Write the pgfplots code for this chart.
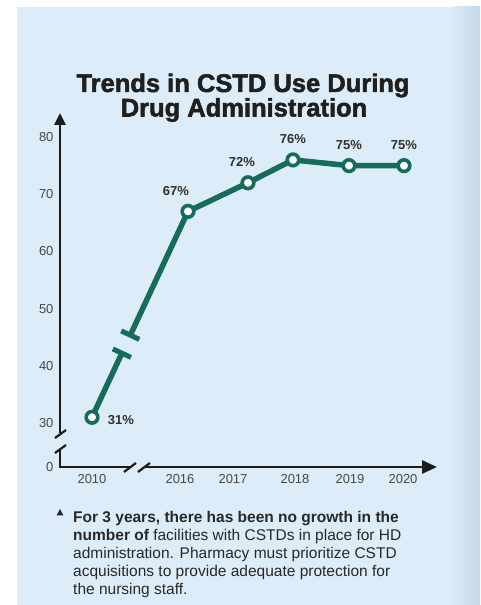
\documentclass[border=0pt]{standalone}
\usepackage{fontspec}
\setmainfont{Liberation Sans}
\newfontface\titlefont{Liberation Sans Bold}[FakeBold=2]
\usepackage{pgfplots}
\pgfplotsset{compat=1.18}
\usetikzlibrary{arrows.meta}
\definecolor{panel}{RGB}{220,236,248}
\definecolor{panelR}{RGB}{196,216,232}
\definecolor{cteal}{RGB}{22,108,90}
\definecolor{axisc}{RGB}{28,28,28}
\definecolor{tickc}{RGB}{72,72,72}
\definecolor{labc}{RGB}{48,48,48}
\definecolor{notec}{RGB}{40,40,40}
\begin{document}
\begin{tikzpicture}[x=1pt,y=1pt]
\useasboundingbox (0,0) rectangle (480,605);
\fill[white] (0,0) rectangle (480,605);
\fill[panel] (17,0) rectangle (480,598);
\shade[left color=panel,right color=panelR] (452,0) rectangle (480,598);
% title
\node[font=\titlefont\fontsize{25.5}{27}\selectfont, text=black!88, anchor=base, inner sep=0pt] at (243,513) {Trends in CSTD Use During};
\node[font=\titlefont\fontsize{25.5}{27}\selectfont, text=black!88, anchor=base, inner sep=0pt] at (244,488.5) {Drug Administration};
% axis lines with breaks
\begin{scope}[draw=axisc, line width=2.8pt]
\draw[-{Triangle[length=12pt,width=11pt]}] (60,172) -- (60,492);
\draw[line width=2.2pt] (55,167) -- (66,175);
\draw (60,138) -- (60,156);
\draw[line width=2.2pt] (55,152) -- (66,160);
\draw (58.6,138) -- (130,138);
\draw[line width=2.2pt] (124,133) -- (136,142);
\draw[-{Triangle[length=15pt,width=13pt]}] (144,138) -- (437,138);
\draw[line width=2.2pt] (138,133) -- (150,142);
\end{scope}
\begin{axis}[
  at={(60pt,138pt)}, anchor=south west, scale only axis,
  width=377pt, height=354pt,
  xmin=60, xmax=437, ymin=22.31, ymax=84.2,
  axis lines=left, axis line style={draw=none,-},
  major tick length=0pt, clip=false,
  xtick={92,180,233,295,350,403},
  xticklabels={2010,2016,2017,2018,2019,2020},
  ytick={22.31,30,40,50,60,70,80},
  yticklabels={0,30,40,50,60,70,80},
  tick label style={font=\fontsize{13}{14}\selectfont, text=tickc},
  /pgf/number format/assume math mode=true,
  xticklabel style={yshift=-4pt},
  yticklabel style={xshift=-3pt},
]
\addplot[cteal, line width=5.5pt, line cap=butt, mark=none] coordinates {(92,31) (121.9,42.21)};
\addplot[cteal, line width=5.5pt, line cap=butt, line join=round, mark=none] coordinates {(130.3,45.36) (188,67) (248,72) (293,76) (349,75) (404,75)};
\addplot[cteal, line width=5pt, mark=none] coordinates {(112.84,42.95) (130.96,41.47)};
\addplot[cteal, line width=5pt, mark=none] coordinates {(121.24,46.10) (139.36,44.62)};
\addplot[only marks, mark=*, mark size=5.8pt, mark options={fill=white, draw=cteal, line width=3.6pt}] coordinates {(92,31) (188,67) (248,72) (293,76) (349,75) (404,75)};
\pgfplotsset{lab/.style={draw=none, mark=none, nodes near coords, point meta=explicit symbolic,
   every node near coord/.append style={font=\bfseries\fontsize{13}{14}\selectfont, text=labc, anchor=center, #1}}}
\addplot[lab={xshift=29pt,yshift=-3pt}] coordinates {(92,31)[31\%]};
\addplot[lab={xshift=-12pt,yshift=20pt}] coordinates {(188,67)[67\%]};
\addplot[lab={xshift=-6pt,yshift=21pt}] coordinates {(248,72)[72\%]};
\addplot[lab={yshift=21pt}] coordinates {(293,76)[76\%] (349,75)[75\%] (404,75)[75\%]};
\end{axis}
% footnote
\fill[notec] (56.5,89.5) -- (63.5,89.5) -- (60,96) -- cycle;
\begin{scope}[every node/.style={anchor=base west, font=\fontsize{15.5}{17}\selectfont, text=notec, inner sep=0pt}]
\node at (73,82) {\textbf{For 3 years, there has been no growth in the}};
\node at (73,64) {\textbf{number of} facilities with CSTDs in place for HD};
\node at (73,46) {administration. Pharmacy must prioritize CSTD};
\node at (73,28) {acquisitions to provide adequate protection for};
\node at (73,10) {the nursing staff.};
\end{scope}
\end{tikzpicture}
\end{document}
